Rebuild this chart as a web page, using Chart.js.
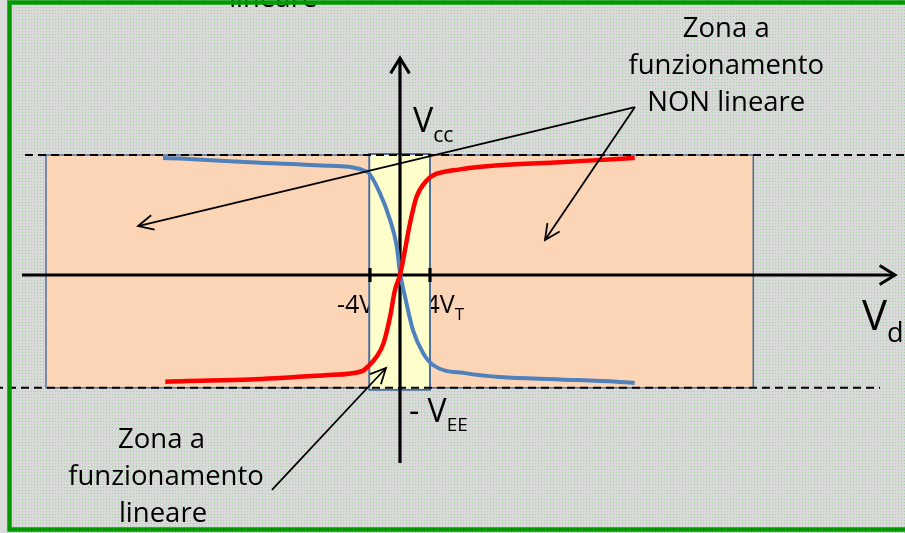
<!DOCTYPE html>
<html>
<head>
<meta charset="utf-8">
<script src="https://cdn.jsdelivr.net/npm/chart.js@4"></script>
<style>
  html, body { margin: 0; padding: 0; background: #dcdcdc; }
  #wrap { width: 905px; height: 533px; position: relative; }
</style>
</head>
<body>
<div id="wrap"><canvas id="chart"></canvas></div>
<script>
// x in units of V_T, y normalised so that Vcc = 1
const redX = [-31.3, -29, -20, -10, -5, -4.4, -3.1, -2.2, -1.33, -0.67, 0, 0.67, 1.33, 2.2, 3.6, 4.4, 8, 13.3, 21.3, 29, 31.3];
const redY = [-0.89, -0.885, -0.87, -0.835, -0.8, -0.77, -0.68, -0.57, -0.35, -0.125, 0, 0.21, 0.43, 0.65, 0.79, 0.83, 0.88, 0.915, 0.94, 0.967, 0.975];
const blueX = [-31.6, -29.3, -20, -9.3, -4.4, -2.67, -1.33, -0.44, 0, 0.67, 1.73, 3.07, 4.4, 8.9, 13.3, 21.3, 29, 31.3];
const blueY = [0.975, 0.97, 0.94, 0.91, 0.86, 0.68, 0.46, 0.24, 0.02, -0.18, -0.46, -0.65, -0.75, -0.82, -0.85, -0.87, -0.89, -0.9];
const xTicks = [-4, 4];
const xTickLabels = ['-4V', '4V'];
const vcc = 1;
const vee = -0.94;
const nonLinearX = [-47.2, 47.1];
const linearX = [-4.1, 4];

const FONT = '"Open Sans", "DejaVu Sans", sans-serif';

function pts(xs, ys) {
    return xs.map((v, i) => ({ x: v, y: ys[i] }));
}
function lastTwo(xs, ys, fromEnd) {
    const p = pts(xs, ys);
    return fromEnd ? p.slice(-2) : p.slice(0, 2);
}

// dotted grey background
const pc = document.createElement('canvas');
pc.width = 3; pc.height = 3;
const pctx = pc.getContext('2d');
pctx.fillStyle = '#d9d9d9';
pctx.fillRect(0, 0, 3, 3);
pctx.fillStyle = '#a6cfa6';
pctx.fillRect(1, 1, 1, 1);

function arrowHead(ctx, fx, fy, tx, ty, len, spread) {
    const a = Math.atan2(ty - fy, tx - fx);
    ctx.beginPath();
    ctx.moveTo(tx - len * Math.cos(a - spread), ty - len * Math.sin(a - spread));
    ctx.lineTo(tx, ty);
    ctx.lineTo(tx - len * Math.cos(a + spread), ty - len * Math.sin(a + spread));
    ctx.stroke();
}

function subText(ctx, main, sub, px, py, size, subSize) {
    ctx.textAlign = 'left';
    ctx.textBaseline = 'alphabetic';
    ctx.font = size + 'px ' + FONT;
    ctx.fillText(main, px, py);
    const w = ctx.measureText(main).width;
    ctx.font = subSize + 'px ' + FONT;
    ctx.fillText(sub, px + w, py + size * 0.28);
}

const diagram = {
    id: 'diagram',
    beforeDraw(chart) {
        const ctx = chart.ctx;
        ctx.save();
        ctx.fillStyle = '#dcdcdc';
        ctx.fillRect(0, 0, chart.width, chart.height);
        ctx.fillStyle = ctx.createPattern(pc, 'repeat');
        ctx.fillRect(9, 0, chart.width, chart.height);
        ctx.restore();
    },
    beforeDatasetsDraw(chart) {
        const { ctx, scales: { x, y } } = chart;
        const X = v => x.getPixelForValue(v), Y = v => y.getPixelForValue(v);
        ctx.save();
        // non linear region
        ctx.fillStyle = '#fbd5b5';
        ctx.strokeStyle = '#4f6f9f';
        ctx.lineWidth = 1.5;
        ctx.fillRect(X(nonLinearX[0]), Y(vcc), X(nonLinearX[1]) - X(nonLinearX[0]), Y(vee) - Y(vcc));
        ctx.strokeRect(X(nonLinearX[0]), Y(vcc), X(nonLinearX[1]) - X(nonLinearX[0]), Y(vee) - Y(vcc));

        // tick labels (partly hidden by the linear region)
        ctx.fillStyle = '#000';
        subText(ctx, xTickLabels[0], 'T', X(xTicks[0] - 4.4), Y(-0.317), 25, 17);
        subText(ctx, xTickLabels[1], 'T', X(xTicks[1] - 0.6), Y(-0.317), 25, 17);

        // linear region
        ctx.fillStyle = '#ffffcc';
        ctx.strokeStyle = '#4f6f9f';
        ctx.lineWidth = 2;
        const yt = Y(vcc) - 1, yb = Y(vee) + 2;
        ctx.fillRect(X(linearX[0]), yt, X(linearX[1]) - X(linearX[0]), yb - yt);
        ctx.strokeRect(X(linearX[0]), yt, X(linearX[1]) - X(linearX[0]), yb - yt);

        // supply levels
        ctx.strokeStyle = '#000';
        ctx.lineWidth = 2;
        ctx.setLineDash([8, 5]);
        ctx.beginPath();
        ctx.moveTo(X(-50), Y(vcc)); ctx.lineTo(X(68), Y(vcc));
        ctx.moveTo(X(-54), Y(vee)); ctx.lineTo(X(64), Y(vee));
        ctx.stroke();
        ctx.setLineDash([]);

        // axes
        ctx.lineWidth = 3.2;
        ctx.beginPath();
        ctx.moveTo(X(-50.4), Y(0)); ctx.lineTo(X(66), Y(0));
        ctx.moveTo(X(0), Y(-1.567)); ctx.lineTo(X(0), Y(1.808));
        xTicks.forEach(t => { ctx.moveTo(X(t), Y(0) - 7); ctx.lineTo(X(t), Y(0) + 7); });
        ctx.stroke();
        ctx.lineWidth = 3;
        arrowHead(ctx, X(0), Y(0), X(66), Y(0), 18, 0.55);
        arrowHead(ctx, X(0), Y(0), X(0), Y(1.808), 18, 0.55);
        ctx.restore();
    },
    afterDatasetsDraw(chart) {
        const { ctx, scales: { x, y } } = chart;
        const X = v => x.getPixelForValue(v), Y = v => y.getPixelForValue(v);
        ctx.save();
        ctx.strokeStyle = '#000';
        ctx.lineWidth = 1.8;
        const arrows = [
            [31.33, 1.4, -34.93, 0.408],
            [31.33, 1.4, 19.33, 0.292],
            [-17.07, -1.79, -1.87, -0.775]
        ];
        arrows.forEach(a => {
            ctx.beginPath();
            ctx.moveTo(X(a[0]), Y(a[1]));
            ctx.lineTo(X(a[2]), Y(a[3]));
            ctx.stroke();
            arrowHead(ctx, X(a[0]), Y(a[1]), X(a[2]), Y(a[3]), 17, 0.45);
        });

        ctx.fillStyle = '#000';
        subText(ctx, 'V', 'cc', X(1.73), Y(1.19), 34, 21);
        subText(ctx, '- V', 'EE', X(1.2), Y(-1.225), 32, 19);
        subText(ctx, 'V', 'd', X(61.6), Y(-0.458), 42, 27);

        ctx.font = '27.5px ' + FONT;
        ctx.textAlign = 'center';
        ctx.textBaseline = 'alphabetic';
        ctx.fillText('Zona a', X(43.5), Y(1.983));
        ctx.fillText('funzionamento', X(43.5), Y(1.675));
        ctx.fillText('NON lineare', X(43.5), Y(1.367));
        ctx.fillText('Zona a', X(-31.8), Y(-1.442));
        ctx.fillText('funzionamento', X(-31.2), Y(-1.75));
        ctx.fillText('lineare', X(-31.6), Y(-2.058));
        ctx.fillText('lineare', X(-16.9), Y(2.233));

        // frame
        ctx.strokeStyle = '#009a00';
        ctx.lineWidth = 4.5;
        ctx.strokeRect(9.5, 2.5, 1000, 527);
        ctx.restore();
    }
};

const capStyle = { borderColor: '#ffffff', borderWidth: 2, pointRadius: 0, showLine: true, tension: 0 };

new Chart(document.getElementById('chart'), {
    type: 'scatter',
    data: {
        datasets: [
            { label: 'red', data: pts(redX, redY), borderColor: '#ff0000', borderWidth: 4.5, pointRadius: 0, showLine: true, cubicInterpolationMode: 'monotone' },
            { label: 'blue', data: pts(blueX, blueY), borderColor: '#4f81bd', borderWidth: 4, pointRadius: 0, showLine: true, cubicInterpolationMode: 'monotone' },
            Object.assign({ data: lastTwo(redX, redY, true) }, capStyle),
            Object.assign({ data: lastTwo(redX, redY, false) }, capStyle),
            Object.assign({ data: lastTwo(blueX, blueY, true) }, capStyle),
            Object.assign({ data: lastTwo(blueX, blueY, false) }, capStyle)
        ]
    },
    options: {
        responsive: true,
        maintainAspectRatio: false,
        animation: false,
        layout: { padding: 0 },
        plugins: { legend: { display: false }, tooltip: { enabled: false } },
        scales: {
            x: { type: 'linear', display: false, min: -53.333, max: 67.333 },
            y: { type: 'linear', display: false, min: -2.15, max: 2.2917 }
        }
    },
    plugins: [diagram]
});
</script>
</body>
</html>
